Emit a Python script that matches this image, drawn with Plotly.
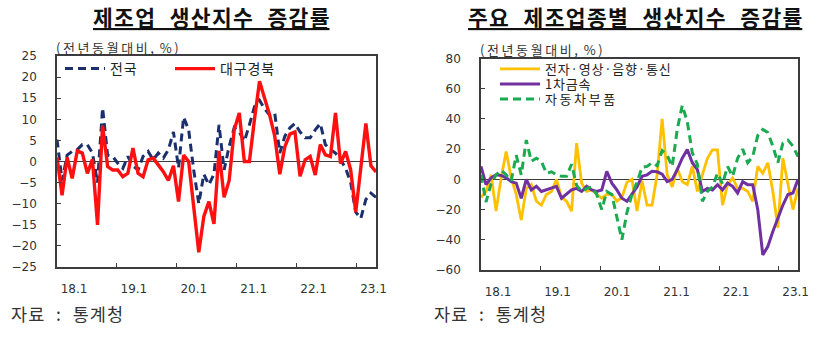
import plotly.graph_objects as go

# ---------------- data ----------------
months = list(range(64))          # monthly index, 2018.1 onward
year_labels = ["18.1", "19.1", "20.1", "21.1", "22.1", "23.1"]

nat = [5.2, -4.5, 1.5, 2.4, 2.8, 4, 4, 2, -5, 12.7,
       1.5, 1.2, -0.4, -1.6, 1.2, -1, -2, 1.2, 2.4, 0.4,
       2, 0.8, 2.8, 7, -1.5, 10.5, 7.5, -2, -10, -3,
       -5.5, -3, 8.7, -2, 3.6, 8, 7, 4.8, 8.7, 13,
       14.5, 12.5, 11, 11.5, 2, 6, 8, 9, 7, 5.6,
       5.6, 7.5, 9, 4, 2.8, 2, 0.4, -1.6, -5, -12,
       -13.5, -9, -7.5, -8.5]

dg = [1, -8, 1, -4, 2.5, 2, -2.8, 0.5, -15, 8.5,
      -1.2, -2, -2, -3.6, -2.8, 3.2, -2.8, -3.6, 0.4, 0.8,
      -0.8, -2.4, -4.5, -1, -9.5, 1.5, 0, -11, -21.5, -13,
      -9.5, -14.8, 2.5, -8.5, -4.5, 7.5, 11.5, 0, 0, 10,
      19, 15, 11, 6, -3, 3.5, 6.5, 7, -3.5, 0.4,
      1.2, -3.2, 4, 1.6, 1.2, 11.5, -0.5, 2.4, -2, -12,
      -1.5, 9, -1, -2.5]

elec = [-12, -8, 3, -21, 1, 18.5, 1, -10, -27, -6,
        -3.5, -14.5, -17, -10, -8, 0, -12, -14.5, -21, 24,
        -2.5, -8, -7, -10, -12.5, -10, -10, -14.5, -12, -2,
        0, -21, -1, -17, -17, 3, 40, 3, -5, 7.5,
        -1.5, -3.5, 8.6, -8, 3, 14, 19.5, 19.5, -17, -3.5,
        1, -6, -6, -8, -14.5, 8.6, 4, 11, -8, -32,
        14, -2, -20, -6]

metal = [8.6, -3.5, 1, 3, 2.6, 1, -1.5, -2.5, -12.5, 0,
         -7, -4.6, -8, -7, -6, -4.6, -12.5, -10, -7, -6,
         -8, -4.6, -7, -8, -7, 5.3, -2.5, -7, -12.5, -14.5,
         -10, -5, 2, 3, 5.3, 5, 3.5, -1.5, 0, 6.4,
         14, 19.7, 11, 6.4, -8, -6, -7, -3.5, -7, -2.5,
         -4.6, -9, -1.5, -3.5, -3.5, -20, -50, -44.5, -34.5, -25.7,
         -17, -10, -9, 0]

auto = [3, -15, -3, 3, 6, 3, -1, 16, 3, 26,
        12, 14, 12, 4, 5, 3, 2, 2, 10, -4,
        -8, -6, -5, -10, -20, -8, -10, -25, -40, -22,
        -10, -2, 8, 8.6, 11, 9, 19, 16, 8.6, 33,
        49, 38, 17.5, 10, -14.6, -8, -5, 4, -3, 8.6,
        2, 14, 20, 11, 15, 29, 33, 31, 22, 11,
        24, 26, 22, 15]

# ---------------- style ----------------
W, H = 830, 345
KFONT = "Noto Sans CJK KR"
NFONT = "DejaVu Sans"
AXCOL = "#3c3c3c"
TICK_STEP = 11.83          # months per year tick on the category scale
HS = "\u200a"              # hair space (letter spacing)
TS = "\u2009"              # thin space (wider letter spacing)
NB = "\u00a0"

def px(x):
    return x / W

def py(y):
    return 1 - y / H

def spaced(s, sep=HS):
    return sep.join(s)

fig = go.Figure()

fig.add_trace(go.Scatter(x=months, y=nat, name=spaced("전국"), mode="lines",
                         line=dict(color="#1a2f6b", width=3, dash="8px,5px"),
                         xaxis="x", yaxis="y", legend="legend"))
fig.add_trace(go.Scatter(x=months, y=dg, name=spaced("대구경북"), mode="lines",
                         line=dict(color="#ff1010", width=3.4),
                         xaxis="x", yaxis="y", legend="legend2"))
fig.add_trace(go.Scatter(x=months, y=elec, name=spaced("전자·영상·음향·통신"), mode="lines",
                         line=dict(color="#ffc000", width=2.8),
                         xaxis="x2", yaxis="y2", legend="legend3"))
fig.add_trace(go.Scatter(x=months, y=metal, name=spaced("1차금속"), mode="lines",
                         line=dict(color="#7030a0", width=3),
                         xaxis="x2", yaxis="y2", legend="legend4"))
fig.add_trace(go.Scatter(x=months, y=auto, name=spaced("자동차부품", TS), mode="lines",
                         line=dict(color="#1aaa50", width=3, dash="8px,5px"),
                         xaxis="x2", yaxis="y2", legend="legend5"))

tickvals = [TICK_STEP * k for k in range(len(year_labels))]

def xaxis(dom, anchor):
    return dict(domain=dom, range=[0, 63], anchor=anchor, automargin=False,
                showgrid=False, zeroline=False,
                showline=True, mirror=True, linecolor=AXCOL, linewidth=1.5,
                ticks="inside", ticklen=4, tickcolor=AXCOL, tickwidth=1.3,
                tickmode="array", tickvals=tickvals, ticktext=year_labels,
                ticklabelshift=17, ticklabelstandoff=10,
                tickfont=dict(family=NFONT, size=12, color="#333"))

def yaxis(dom, rng, dt, anchor):
    return dict(domain=dom, range=rng, dtick=dt, tick0=0, anchor=anchor, automargin=False,
                showgrid=False, zeroline=True, zerolinecolor=AXCOL, zerolinewidth=1.3,
                showline=True, mirror=True, linecolor=AXCOL, linewidth=1.5,
                ticks="inside", ticklen=4, tickcolor=AXCOL, tickwidth=1.3,
                ticklabelstandoff=16,
                tickfont=dict(family=NFONT, size=12, color="#333"))

leg_left = dict(bgcolor="rgba(0,0,0,0)", borderwidth=0, xanchor="left", yanchor="middle",
                itemwidth=40, font=dict(family=KFONT, size=14, color="#222"))
leg_right = dict(leg_left, font=dict(family=KFONT, size=13, color="#222"))

fig.update_layout(
    template="none",
    width=W, height=H, margin=dict(l=0, r=0, t=0, b=0, autoexpand=False),
    paper_bgcolor="white", plot_bgcolor="white",
    xaxis=xaxis([px(57), px(376)], "y"),
    yaxis=yaxis([py(267), py(56)], [-25, 25], 5, "x"),
    xaxis2=xaxis([px(481), px(798)], "y2"),
    yaxis2=yaxis([py(270), py(58.5)], [-60, 80], 20, "x2"),
    legend=dict(leg_left, x=px(60), y=py(69)),
    legend2=dict(leg_left, x=px(170), y=py(69)),
    legend3=dict(leg_right, x=px(495), y=py(69)),
    legend4=dict(leg_right, x=px(495), y=py(84)),
    legend5=dict(leg_right, x=px(495), y=py(99)),
    showlegend=True,
)

def ann(text, x, y, size, xanchor="left", bold=False, underline=False, color="#222"):
    font = dict(family=KFONT, size=size, color=color, weight=700 if bold else 400)
    if underline:
        font["lineposition"] = "under"
    fig.add_annotation(text=text, x=px(x), y=py(y), xref="paper", yref="paper",
                       xanchor=xanchor, yanchor="middle", showarrow=False, font=font)

GAP = NB * 3
ann(GAP.join(spaced(w) for w in ["제조업", "생산지수", "증감률"]),
    211, 16, 21.5, xanchor="center", bold=True, underline=True, color="#111")
ann(GAP.join(spaced(w) for w in ["주요", "제조업종별", "생산지수", "증감률"]),
    635, 16, 21.5, xanchor="center", bold=True, underline=True, color="#111")
sub = spaced("(전년동월대비,", TS) + NB + NB + spaced("%)", TS)
ann(sub, 54, 47, 13, color="#333")
ann(sub, 478, 50, 13, color="#333")
src = spaced("자료") + NB * 3 + ":" + NB * 3 + spaced("통계청")
ann(src, 9, 313, 17.5, color="#333")
ann(src, 432, 313, 17.5, color="#333")

fig.write_html("out.html", config={"displayModeBar": False})
